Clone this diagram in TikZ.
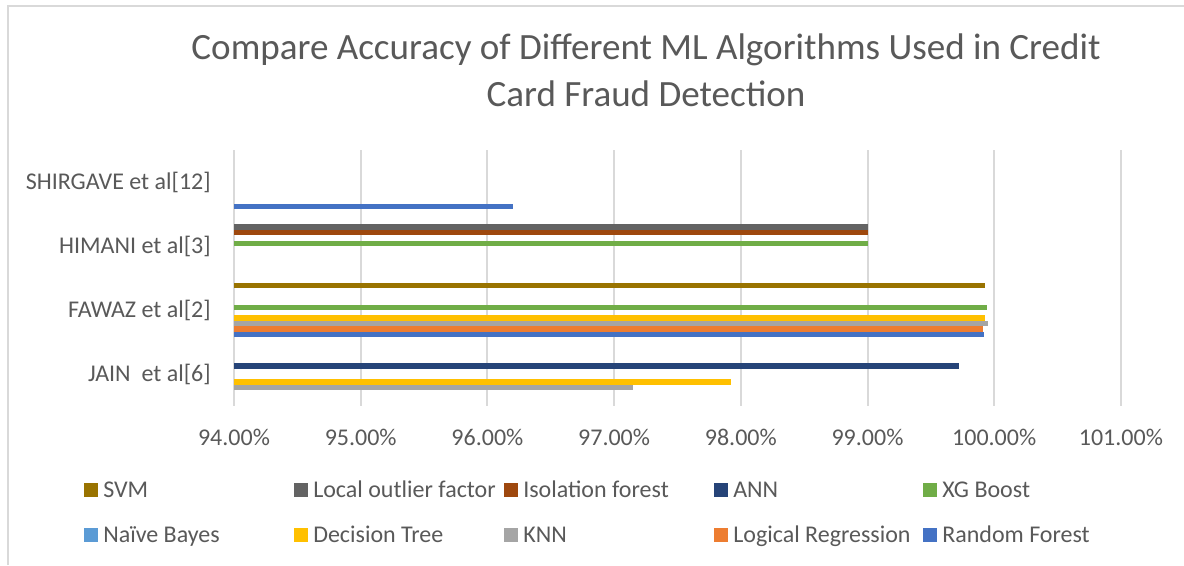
\documentclass[tikz,border=0pt]{standalone}
\usepackage{fontspec}
\setmainfont{Carlito}
\definecolor{txt}{HTML}{595959}
\definecolor{gridc}{HTML}{D9D9D9}
\definecolor{cSVM}{HTML}{997300}
\definecolor{cLOF}{HTML}{636363}
\definecolor{cIF}{HTML}{9E480E}
\definecolor{cANN}{HTML}{264478}
\definecolor{cXGB}{HTML}{70AD47}
\definecolor{cNB}{HTML}{5B9BD5}
\definecolor{cDT}{HTML}{FFC000}
\definecolor{cKNN}{HTML}{A5A5A5}
\definecolor{cLR}{HTML}{ED7D31}
\definecolor{cRF}{HTML}{4472C4}
% horizontal bar: category centre, slot (0 = bottom), value in %, colour
\newcommand{\drawbar}[4]{%
  \fill[#4] (234,{#1+27-5.4*(#2+1)}) rectangle ({234+(#3-94)*126.7},{#1+27-5.4*#2});}
\begin{document}
\begin{tikzpicture}[x=0.75pt,y=-0.75pt,
  frame/.style={draw=gridc,line width=1.5pt},
  gridline/.style={draw=gridc,line width=1.5pt},
  titletext/.style={text=txt,font=\fontsize{27.8}{35.2}\selectfont,align=center,inner sep=0pt},
  lbl/.style={text=txt,font=\fontsize{18}{21}\selectfont,inner sep=0pt},
  legbox/.style={minimum size=10.5pt,inner sep=0pt,anchor=west}]
\useasboundingbox (0,0) rectangle (1184,565);
\fill[white] (0,0) rectangle (1184,565);
\draw[frame] (8,565) -- (8,6) -- (1184,6);

\node[titletext] (title) at (646,70) {Compare Accuracy of Different ML Algorithms Used in Credit\\Card Fraud Detection};

% value grid and tick labels
\foreach \v in {94,...,101} {
  \draw[gridline] ({234+(\v-94)*126.7},150) -- ({234+(\v-94)*126.7},406);
  \node[lbl] (tick\v) at ({234+(\v-94)*126.7},437) {\v.00\%};
}

% category labels
\node[lbl,anchor=east] (catA) at (211,182) {SHIRGAVE et al[12]};
\node[lbl,anchor=east] (catB) at (211,246) {HIMANI et al[3]};
\node[lbl,anchor=east] (catC) at (211,310) {FAWAZ et al[2]};
\node[lbl,anchor=east] (catD) at (211,374) {JAIN\ \ et al[6]};

% bars (slots: 0 RF, 1 LR, 2 KNN, 3 DT, 4 NB, 5 XGB, 6 ANN, 7 IF, 8 LOF, 9 SVM)
\drawbar{182}{0}{96.2}{cRF}
\drawbar{246}{8}{99}{cLOF}
\drawbar{246}{7}{99}{cIF}
\drawbar{246}{5}{99}{cXGB}
\drawbar{310}{9}{99.93}{cSVM}
\drawbar{310}{5}{99.94}{cXGB}
\drawbar{310}{3}{99.93}{cDT}
\drawbar{310}{2}{99.95}{cKNN}
\drawbar{310}{1}{99.91}{cLR}
\drawbar{310}{0}{99.92}{cRF}
\drawbar{374}{6}{99.72}{cANN}
\drawbar{374}{3}{97.92}{cDT}
\drawbar{374}{2}{97.15}{cKNN}

% legend: keys centred on the row, text on a common baseline
\foreach \i/\name/\col/\x/\y in {
  1/SVM/cSVM/84/490, 2/Local outlier factor/cLOF/294/490, 3/Isolation forest/cIF/504/490,
  4/ANN/cANN/714/490, 5/XG Boost/cXGB/923/490,
  6/Naïve Bayes/cNB/84/535, 7/Decision Tree/cDT/294/535, 8/KNN/cKNN/504/535,
  9/Logical Regression/cLR/714/535, 10/Random Forest/cRF/923/535} {
  \node[legbox,fill=\col] (key\i) at (\x,\y) {};
  \node[lbl,anchor=base west] (leg\i) at (\x+19,\y+7.7) {\name};
}
\end{tikzpicture}
\end{document}
